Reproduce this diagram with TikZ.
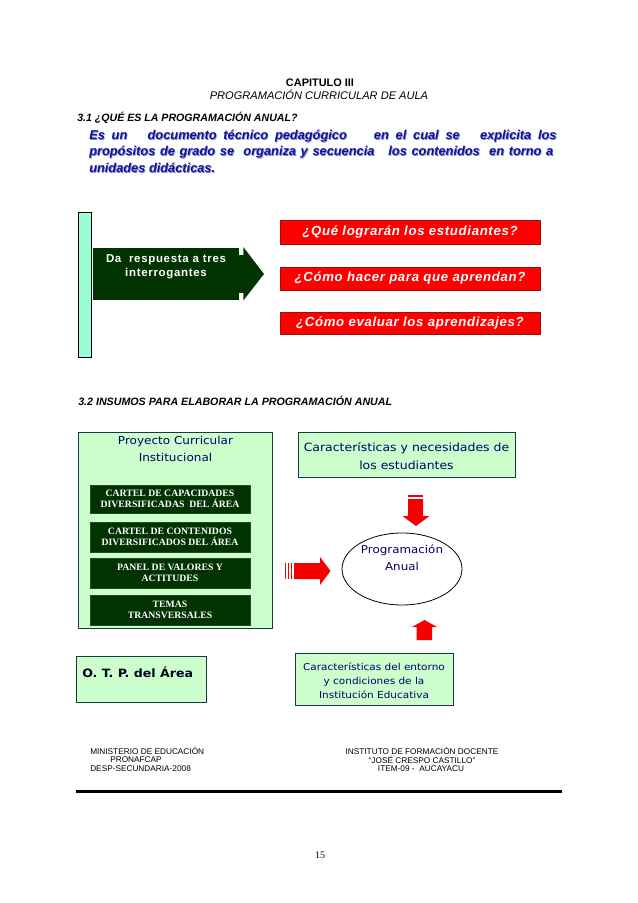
\documentclass[tikz,border=0pt]{standalone}
\usepackage{fontspec}
\setmainfont{Liberation Sans}
\newfontfamily\seriffont{Liberation Serif}
\newfontfamily\comicfont[FakeStretch=1.1]{DejaVu Sans}
\newfontfamily\spacedfont[LetterSpace=6]{Liberation Sans}
\newfontfamily\widefont[LetterSpace=5]{Liberation Sans}
\usetikzlibrary{shapes.geometric}
\definecolor{bluetxt}{RGB}{15,15,160}
\definecolor{blueshadow}{RGB}{140,140,185}
\definecolor{redborder}{RGB}{150,20,20}
\definecolor{arrowred}{RGB}{245,0,0}
\definecolor{dkgreen}{RGB}{0,51,0}
\definecolor{aqua}{RGB}{153,255,210}
\definecolor{ltgreen}{RGB}{204,255,204}
\definecolor{navytxt}{RGB}{0,0,100}
\definecolor{boxborder}{RGB}{20,60,70}
\begin{document}
\begin{tikzpicture}[x=0.75pt,y=-0.75pt,
  plain/.style={inner sep=0},
  head/.style={inner sep=0, font=\fontsize{8}{9}\selectfont},
  bluetext/.style={inner sep=0, anchor=west, text=bluetxt, font=\bfseries\itshape\fontsize{9.6}{11}\selectfont},
  shadowtext/.style={bluetext, text=blueshadow},
  redq/.style={draw=redborder, fill=red, minimum width=260*0.75pt, inner sep=0, text=white,
     font=\widefont\bfseries\itshape\fontsize{9.9}{10}\selectfont},
  lgbox/.style={draw=boxborder, fill=ltgreen, line width=0.7pt, inner sep=0},
  dgbox/.style={fill=dkgreen, draw=dkgreen!70!gray, minimum width=160*0.75pt, inner sep=0, text=white,
     align=center, font=\seriffont\bfseries\fontsize{7.3}{8}\selectfont},
  comic/.style={inner sep=0, text=navytxt, align=center, font=\comicfont\fontsize{8.2}{12.75}\selectfont},
  foot/.style={inner sep=0, font=\fontsize{6.2}{7}\selectfont},
  redarrow/.style={fill=arrowred}
]
\useasboundingbox[fill=white] (0,0) rectangle (638,903);

% ---------- header ----------
\node[head, font=\bfseries\fontsize{8.2}{9}\selectfont] (cap) at (320,83) {CAPITULO III};
\node[head, font=\itshape\fontsize{8.3}{9}\selectfont] (title) at (319,94.5) {PROGRAMACIÓN CURRICULAR DE AULA};
\node[head, anchor=west, font=\bfseries\itshape\fontsize{7.95}{9}\selectfont] (s31) at (77,117.5) {3.1 ¿QUÉ ES LA PROGRAMACIÓN ANUAL?};

% ---------- blue definition ----------
\node[shadowtext] (l1s) at (89.8,136.8) {\makebox[350.5pt][s]{Es un\ \ \ documento técnico pedagógico\ \ \ \ en el cual se\ \ \ explicita los}};
\node[bluetext] (l1) at (89,136) {\makebox[350.5pt][s]{Es un\ \ \ documento técnico pedagógico\ \ \ \ en el cual se\ \ \ explicita los}};
\node[shadowtext] (l2s) at (89.8,152.8) {\makebox[348pt][s]{propósitos de grado se\ \ organiza y secuencia\ \ \ los contenidos\ \ en torno a}};
\node[bluetext] (l2) at (89,152) {\makebox[348pt][s]{propósitos de grado se\ \ organiza y secuencia\ \ \ los contenidos\ \ en torno a}};
\node[shadowtext] (l3s) at (89.8,168.8) {unidades didácticas.};
\node[bluetext] (l3) at (89,168) {unidades didácticas.};

% ---------- three questions ----------
\node[draw=black, fill=aqua, minimum width=13*0.75pt, minimum height=145*0.75pt, inner sep=0] (bar) at (84.5,284.5) {};
\fill[dkgreen] (93,248) rectangle (238.5,300);
\fill[dkgreen] (238,255) rectangle (243.6,293);
\fill[dkgreen] (243.3,247) -- (264,274) -- (243.3,300.5) -- cycle;
\node[plain, text=white, align=center, font=\spacedfont\bfseries\fontsize{8.6}{10.5}\selectfont] (da) at (166,267) {Da\ \ respuesta a tres\\interrogantes};

\node[redq, minimum height=24*0.75pt] (q1) at (410,232) {¿Qué lograrán los estudiantes?};
\node[redq, minimum height=23*0.75pt] (q2) at (410,278.5) {¿Cómo hacer para que aprendan?};
\node[redq, minimum height=22*0.75pt] (q3) at (410,323) {¿Cómo evaluar los aprendizajes?};

% ---------- section 3.2 ----------
\node[head, anchor=west, font=\bfseries\itshape\fontsize{8}{9}\selectfont] (s32) at (78,400.5) {3.2 INSUMOS PARA ELABORAR LA PROGRAMACIÓN ANUAL};

\node[lgbox, minimum width=194*0.75pt, minimum height=196*0.75pt] (pci) at (175,530) {};
\node[comic] (pcit) at (175.5,448.5) {Proyecto Curricular\\Institucional};
\node[dgbox, minimum height=28*0.75pt] (db1) at (170,499) {CARTEL DE CAPACIDADES\\DIVERSIFICADAS\ \ DEL ÁREA};
\node[dgbox, minimum height=30*0.75pt] (db2) at (170,537) {CARTEL DE CONTENIDOS\\DIVERSIFICADOS DEL ÁREA};
\node[dgbox, minimum height=30*0.75pt] (db3) at (170,573) {PANEL DE VALORES Y\\ACTITUDES};
\node[dgbox, minimum height=30*0.75pt] (db4) at (170,610) {TEMAS\\TRANSVERSALES};

\node[lgbox, minimum width=217*0.75pt, minimum height=45*0.75pt] (cne) at (406.5,454.5) {};
\node[comic, font=\comicfont\fontsize{8.5}{13.5}\selectfont] (cnet) at (406.5,456) {Características y necesidades de\\los estudiantes};

% down arrow
\fill[redarrow] (408,495.3) rectangle (423,497);
\fill[redarrow] (408,499) -- (423,499) -- (423,516) -- (429.5,516) -- (416,526) -- (402.5,516) -- (408,516) -- cycle;

% ellipse
\node[draw=black, ellipse, minimum width=120*0.75pt, minimum height=72*0.75pt, inner sep=0, line width=0.6pt] (pa) at (402,569) {};
\node[comic, font=\comicfont\fontsize{8.1}{12.75}\selectfont] (pat) at (402,557.5) {Programación\\Anual};

% right arrow
\fill[redarrow] (285,563) rectangle (286.4,579);
\fill[redarrow] (288,563) rectangle (289.4,579);
\fill[redarrow] (291,563) rectangle (292.4,579);
\fill[redarrow] (294,563) -- (320,563) -- (320,557) -- (330.5,571) -- (320,585) -- (320,579) -- (294,579) -- cycle;

% up arrow
\fill[redarrow] (424.5,620) -- (437,627) -- (432,627) -- (432,640) -- (416.5,640) -- (416.5,627) -- (412,627) -- cycle;

\node[lgbox, minimum width=158*0.75pt, minimum height=52*0.75pt] (cei) at (374,679) {};
\node[comic, font=\comicfont\fontsize{7.15}{10.5}\selectfont] (ceit) at (374,681) {Características del entorno\\y condiciones de la\\Institución Educativa};

\node[lgbox, minimum width=130*0.75pt, minimum height=46*0.75pt] (otp) at (141,679) {};
\node[comic, anchor=west, text=black!70!navytxt, font=\comicfont\bfseries\fontsize{8.6}{10}\selectfont] (otpt) at (82,672) {O. T. P. del Área};

% ---------- footer ----------
\node[foot, anchor=west] (f1) at (90,750.7) {MINISTERIO DE EDUCACIÓN};
\node[foot, anchor=west] (f2) at (110,759.5) {PRONAFCAP};
\node[foot, anchor=west] (f3) at (90,768.3) {DESP-SECUNDARIA-2008};
\node[foot] (g1) at (422,750.7) {INSTITUTO DE FORMACIÓN DOCENTE};
\node[foot] (g2) at (422,759.5) {“JOSÉ CRESPO CASTILLO”};
\node[foot] (g3) at (421,768.3) {ITEM-09 -\ \ AUCAYACU};
\coordinate (r1) at (76,791.5);
\coordinate (r2) at (562,791.5);
\draw[line width=2.2pt] (r1) -- (r2);

\node[plain, font=\seriffont\fontsize{7.5}{9}\selectfont] (pg) at (320,855) {15};
\end{tikzpicture}
\end{document}
